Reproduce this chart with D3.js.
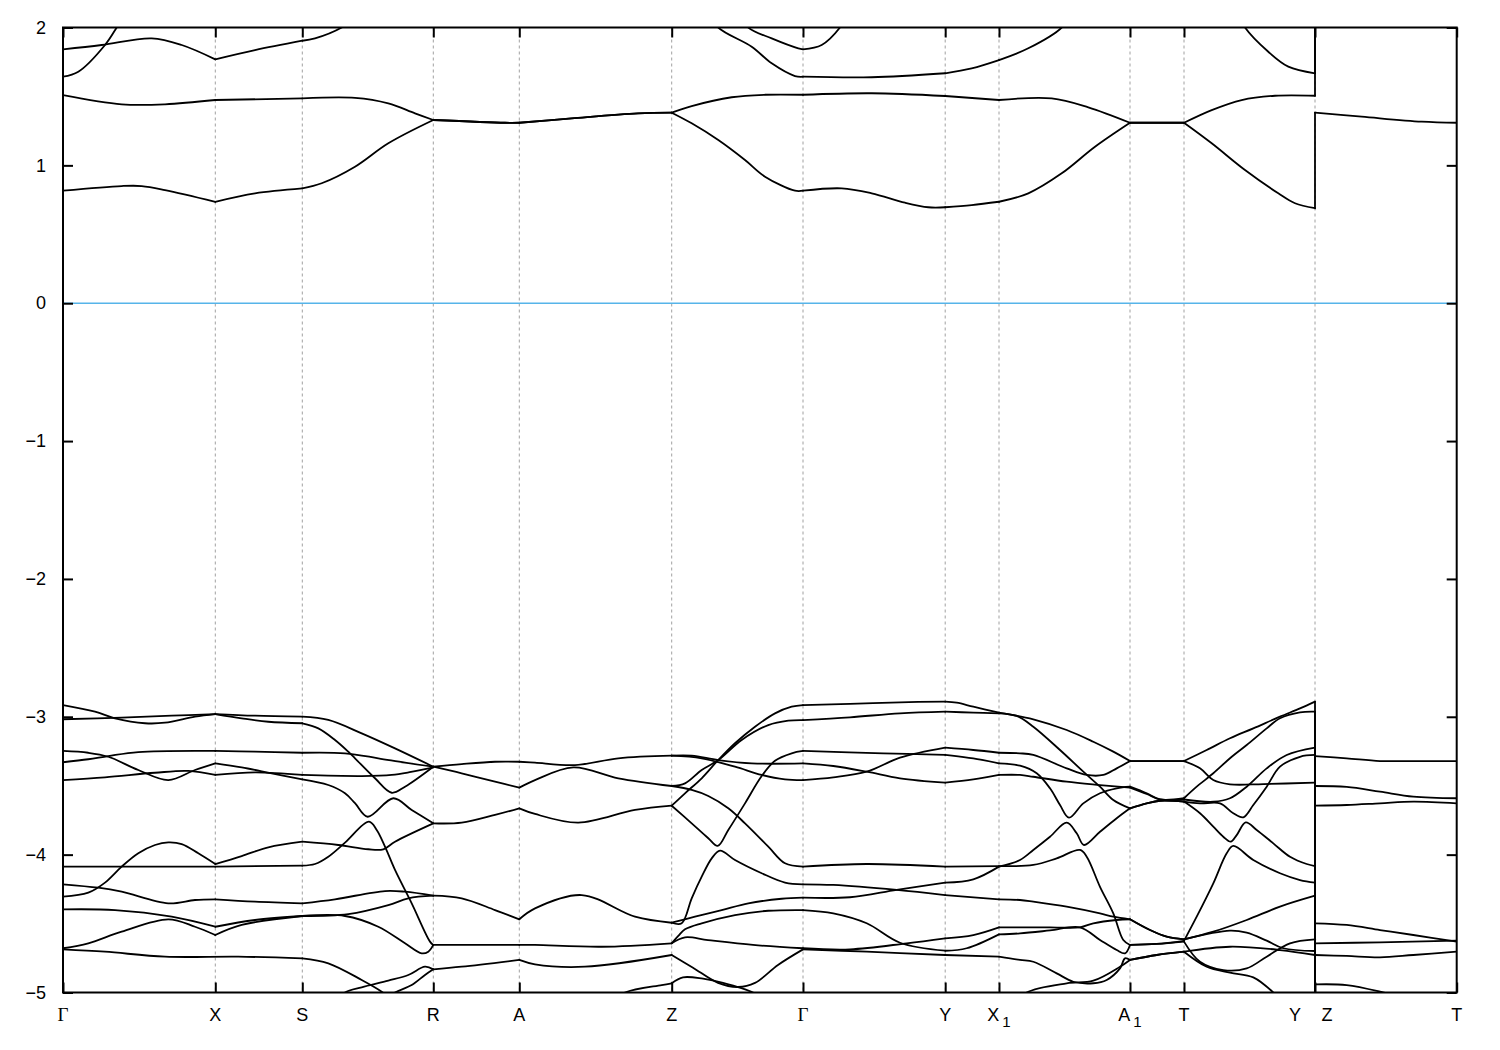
<!DOCTYPE html>
<html><head><meta charset="utf-8">
<script src="https://cdn.jsdelivr.net/npm/d3@7"></script>
<style>body{margin:0;background:#fff}</style>
</head><body><svg id="c" width="1500" height="1050"></svg>
<script>
// k-path positions of the high-symmetry points and their labels
const kTicks = [0,152.3,239.3,370.3,456.3,608.7,740,882.2,936,1067,1121,1252,1393.7];
const kLabels = ["Γ","X","S","R","A","Z","Γ","Y","X_1","A_1","T","Y|Z","T"];
const yTicks = [2,1,0,-1,-2,-3,-4,-5];
const eRange = [-5,2];

// conduction bands [k, E]
const cb1 = [[0,0.816],[58.7,0.850],[78.7,0.850],[102,0.821],[152.3,0.736],[192,0.797],[239.3,0.833],[258.7,0.870],[292,0.990],[325.3,1.160],[370.3,1.329],[442,1.309],[456.3,1.309],[508.7,1.341],[575,1.377],[608.7,1.382],[628.7,1.305],[655.3,1.184],[682,1.039],[702,0.918],[732,0.816],[740,0.816],[778.7,0.833],[808.7,0.797],[842,0.729],[865.3,0.696],[882.2,0.696],[908.7,0.712],[936,0.736],[965.3,0.797],[998.7,0.942],[1032,1.135],[1067,1.309],[1121,1.309],[1148.7,1.160],[1182,0.966],[1215.3,0.797],[1232,0.725],[1252,0.689],[1252,1.382],[1298.7,1.353],[1358.7,1.317],[1393.7,1.309]];
const cb2 = [[0,1.510],[58.7,1.443],[102,1.443],[152.3,1.474],[239.3,1.486],[292,1.490],[325.3,1.450],[352,1.377],[370.3,1.329],[442,1.309],[456.3,1.309],[508.7,1.341],[575,1.377],[608.7,1.382],[628.7,1.430],[668.7,1.494],[702,1.512],[740,1.512],[808.7,1.523],[882.2,1.503],[936,1.474],[988.7,1.486],[1025.3,1.421],[1067,1.309],[1121,1.309],[1148.7,1.401],[1178.7,1.474],[1212,1.505],[1252,1.505],[1252,2.4],[1393.7,2.4]];
const cb3 = [[0,1.842],[38.7,1.873],[88.7,1.921],[118.7,1.873],[152.3,1.769],[192,1.836],[239.3,1.904],[252,1.921],[278.7,2.0],[297,2.1]];
const cb4 = [[0,1.643],[15.3,1.679],[42,1.873],[53.7,2.0],[62,2.1]];
const cb5 = [[647,2.1],[655.3,2.0],[688.7,1.861],[708.7,1.740],[732,1.648],[740,1.643],[808.7,1.639],[882.2,1.668],[908.7,1.704],[936,1.764],[965.3,1.849],[998.7,2.0],[1007,2.1]];
const cb6 = [[677,2.1],[685.3,2.0],[708.7,1.921],[735.3,1.849],[740,1.842],[758.7,1.873],[777,2.0],[785,2.1]];
const cb7 = [[1175,2.1],[1182,2.0],[1205.3,1.824],[1225.3,1.716],[1252,1.668],[1252,2.6]];

// valence bands, Gamma - X - S - R
const v1 = [[0,-2.915],[32,-2.963],[52,-3.011],[82,-3.047],[102,-3.043],[132,-2.999],[152.3,-2.980],[178.7,-3.011],[205.3,-3.036],[239.3,-3.047],[255.3,-3.084],[272,-3.168],[285.3,-3.253],[292,-3.301],[312,-3.446],[328.7,-3.551],[342,-3.507],[370.3,-3.362]];
const v2 = [[0,-3.018],[58.7,-3.006],[108.7,-2.992],[152.3,-2.980],[192,-2.992],[239.3,-2.999],[265.3,-3.023],[298.7,-3.120],[332,-3.229],[370.3,-3.362]];
const v3 = [[0,-3.248],[25.3,-3.261],[45.3,-3.290],[75.3,-3.386],[105.3,-3.459],[132,-3.386],[152.3,-3.338],[178.7,-3.367],[208.7,-3.410],[239.3,-3.454],[265.3,-3.495],[282,-3.555],[292,-3.627],[304.7,-3.725],[330.3,-3.591],[348.7,-3.676],[370.3,-3.773]];
const v4 = [[0,-3.330],[25.3,-3.308],[45.3,-3.285],[75.3,-3.256],[152.3,-3.248],[192,-3.253],[239.3,-3.261],[282,-3.265],[315.3,-3.301],[342,-3.333],[370.3,-3.362]];
const v5 = [[0,-3.459],[42,-3.439],[92,-3.406],[125.3,-3.393],[152.3,-3.422],[192,-3.403],[239.3,-3.422],[298.7,-3.430],[328.7,-3.422],[348,-3.400],[370.3,-3.367]];
const v6 = [[0,-4.305],[25.3,-4.276],[42,-4.203],[58.7,-4.087],[75.3,-3.990],[92,-3.930],[105.3,-3.911],[118.7,-3.923],[135.3,-3.990],[152.3,-4.068],[178.7,-4.010],[205.3,-3.947],[239.3,-3.906],[275.3,-3.930],[305.3,-3.961],[320.3,-3.961],[332,-3.906],[370.3,-3.773]];
const v7 = [[0,-4.087],[152.3,-4.087],[239.3,-4.080],[252,-4.068],[265.3,-4.015],[282,-3.913],[306,-3.761],[313.7,-3.821],[322,-3.942],[332,-4.111],[348.7,-4.353],[367,-4.631],[370.3,-4.655]];
const v8 = [[0,-4.215],[35.3,-4.240],[58.7,-4.269],[105.3,-4.353],[132,-4.329],[152.3,-4.324],[192,-4.341],[239.3,-4.353],[272,-4.324],[322,-4.264],[342,-4.269],[370.3,-4.298]];
const v9 = [[0,-4.397],[52,-4.402],[108.7,-4.450],[152.3,-4.523],[192,-4.474],[239.3,-4.445],[282,-4.445],[315.3,-4.523],[342,-4.643],[358.7,-4.716],[365.3,-4.704],[370.3,-4.655]];
const v10 = [[0,-4.679],[25.3,-4.643],[58.7,-4.559],[105.3,-4.469],[132,-4.523],[152.3,-4.583],[178.7,-4.510],[239.3,-4.445],[285.3,-4.431],[325.3,-4.366],[345.3,-4.317],[370.3,-4.298]];
const v11 = [[0,-4.687],[42,-4.704],[102,-4.740],[175.3,-4.740],[239.3,-4.752],[265.3,-4.788],[298.7,-4.909],[318.7,-4.994],[330,-5.06]];
const v12 = [[270,-5.1],[282,-5.0],[298.7,-4.962],[325.3,-4.914],[345.3,-4.873],[362,-4.813],[370.3,-4.832]];
const v13 = [[322,-5.05],[332,-5.0],[348.7,-4.946],[362,-4.873],[370.3,-4.832]];

// R - A - Z
const raz1 = [[370.3,-3.362],[398.7,-3.343],[432,-3.326],[456.3,-3.326],[472,-3.333],[512,-3.350],[555.3,-3.301],[608.7,-3.282]];
const raz2 = [[370.3,-3.362],[398.7,-3.410],[432,-3.471],[456.3,-3.514],[472,-3.459],[510.3,-3.367],[555.3,-3.446],[608.7,-3.502]];
const raz3 = [[370.3,-3.773],[398.7,-3.768],[432,-3.712],[456.3,-3.664],[472,-3.705],[515.3,-3.768],[572,-3.676],[608.7,-3.645]];
const raz4 = [[370.3,-4.298],[398.7,-4.317],[432,-4.402],[456.3,-4.469],[472,-4.390],[518.7,-4.293],[572,-4.450],[608.7,-4.494]];
const raz5 = [[370.3,-4.655],[456.3,-4.655],[472,-4.655],[538.7,-4.668],[608.7,-4.643]];
const raz6 = [[370.3,-4.832],[398.7,-4.813],[456.3,-4.764],[472,-4.796],[522,-4.813],[608.7,-4.728]];
const raz7 = [[545,-5.08],[562,-5.0],[598.7,-4.946],[608.7,-4.933]];

// Z - Gamma
const zg1 = [[608.7,-3.645],[622,-3.555],[638.7,-3.446],[653.7,-3.326],[672,-3.192],[692,-3.072],[712,-2.975],[728.7,-2.927],[740,-2.915]];
const zg2 = [[608.7,-3.502],[622,-3.483],[638.7,-3.386],[655.3,-3.314],[678.7,-3.168],[705.3,-3.060],[725.3,-3.028],[740,-3.024]];
const zg3 = [[608.7,-3.502],[628.7,-3.531],[645.3,-3.575],[665.3,-3.664],[682,-3.773],[705.3,-3.942],[722,-4.063],[740,-4.087]];
const zg4 = [[608.7,-3.645],[628.7,-3.773],[645.3,-3.881],[654.7,-3.937],[665.3,-3.821],[682,-3.628],[698.7,-3.430],[712,-3.319],[728.7,-3.265],[740,-3.248]];
const zg5 = [[608.7,-3.282],[628.7,-3.282],[655.3,-3.314],[688.7,-3.338],[740,-3.338]];
const zg6 = [[608.7,-3.282],[638.7,-3.301],[672,-3.362],[698.7,-3.422],[722,-3.454],[740,-3.459]];
const zg7 = [[608.7,-4.494],[618.7,-4.498],[628.7,-4.317],[638.7,-4.160],[648.7,-4.027],[657,-3.971],[672,-4.039],[698.7,-4.135],[722,-4.203],[740,-4.215]];
const zg8 = [[608.7,-4.494],[632,-4.450],[658.7,-4.402],[685.3,-4.353],[718.7,-4.320],[740,-4.312]];
const zg9 = [[608.7,-4.643],[615.3,-4.590],[622,-4.542],[638.7,-4.498],[672,-4.438],[705.3,-4.407],[740,-4.402]];
const zg10 = [[608.7,-4.643],[622,-4.600],[645,-4.620],[690,-4.655],[740,-4.679]];
const zg11 = [[608.7,-4.728],[630,-4.820],[655,-4.930],[675,-4.960],[692,-4.930],[715,-4.800],[740,-4.687]];
const zg12 = [[608.7,-4.933],[620,-4.890],[640,-4.900],[660,-4.930],[690,-5.0],[700,-5.05]];

// Gamma - Y - X1 - A1 - T - Y | Z - T
const gA = [[740,-2.915],[787,-2.907],[837,-2.895],[882.2,-2.890],[893.7,-2.898],[910.3,-2.927],[936,-2.970],[970.3,-3.018],[1003.7,-3.096],[1030.3,-3.181],[1050.3,-3.253],[1067,-3.321],[1121,-3.321],[1143.7,-3.241],[1167,-3.156],[1190.3,-3.084],[1217,-2.999],[1237,-2.939],[1252,-2.890],[1252,-3.285],[1283.7,-3.301],[1317,-3.321],[1350.3,-3.321],[1393.7,-3.321]];
const gB = [[740,-3.024],[787,-3.004],[837,-2.975],[882.2,-2.963],[910.3,-2.970],[936,-2.975],[953.7,-2.994],[970.3,-3.072],[997,-3.241],[1020.3,-3.398],[1037,-3.507],[1050.3,-3.603],[1067,-3.664],[1083.7,-3.628],[1097,-3.609],[1121,-3.615],[1137,-3.700],[1150.3,-3.797],[1160.3,-3.870],[1167.7,-3.906],[1173.7,-3.858],[1182.7,-3.766],[1193.7,-3.821],[1210.3,-3.918],[1227,-4.015],[1243.7,-4.068],[1252,-4.083],[1252,-4.728],[1283.7,-4.735],[1317,-4.745],[1350.3,-4.728],[1393.7,-4.704]];
const gC = [[740,-3.459],[770.3,-3.439],[803.7,-3.398],[837,-3.297],[882.2,-3.224],[910.3,-3.241],[936,-3.261],[957,-3.265],[970.3,-3.277],[1003.7,-3.374],[1023.7,-3.422],[1040.3,-3.422],[1053.7,-3.374],[1067,-3.321],[1121,-3.321],[1137,-3.374],[1150.3,-3.459],[1167,-3.490],[1200.3,-3.488],[1252,-3.478],[1252,-4.643],[1317,-4.636],[1393.7,-4.624]];
const gD = [[740,-3.248],[820.3,-3.265],[882.2,-3.277],[920.3,-3.314],[936,-3.338],[957,-3.355],[973.7,-3.410],[987,-3.519],[997,-3.640],[1006,-3.732],[1020.3,-3.628],[1037,-3.555],[1053.7,-3.519],[1067,-3.507],[1083.7,-3.555],[1097,-3.599],[1121,-3.591],[1133.7,-3.507],[1150.3,-3.410],[1167,-3.301],[1183.7,-3.205],[1203.7,-3.084],[1217,-3.011],[1237,-2.968],[1252,-2.963],[1252,-3.502],[1283.7,-3.509],[1317,-3.543],[1350.3,-3.579],[1393.7,-3.591]];
const gE = [[740,-3.338],[770.3,-3.357],[803.7,-3.398],[837,-3.446],[882.2,-3.478],[910.3,-3.454],[936,-3.422],[957,-3.422],[970.3,-3.435],[1003.7,-3.471],[1037,-3.495],[1067,-3.514],[1083.7,-3.560],[1097,-3.600],[1121,-3.600],[1150.3,-3.616],[1167,-3.591],[1183.7,-3.507],[1203.7,-3.374],[1223.7,-3.277],[1252,-3.224],[1252,-3.645],[1283.7,-3.640],[1317,-3.628],[1350.3,-3.616],[1393.7,-3.628]];
const gF = [[740,-4.312],[787,-4.309],[833.7,-4.256],[882.2,-4.203],[910.3,-4.179],[936,-4.087],[957,-4.039],[970.3,-3.966],[987,-3.870],[1003.7,-3.768],[1013.7,-3.845],[1021,-3.930],[1037,-3.834],[1053.7,-3.736],[1067,-3.664],[1083.7,-3.628],[1097,-3.609],[1121,-3.615],[1137,-3.628],[1157,-3.628],[1170.3,-3.700],[1180.3,-3.729],[1190.3,-3.640],[1203.7,-3.507],[1217,-3.362],[1237,-3.290],[1252,-3.277],[1252,-4.498],[1283.7,-4.510],[1317,-4.547],[1350.3,-4.583],[1393.7,-4.631]];
const gG = [[740,-4.087],[803.7,-4.068],[882.2,-4.087],[936,-4.083],[970.3,-4.075],[993.7,-4.027],[1017,-3.966],[1023.7,-4.015],[1037,-4.233],[1050.3,-4.426],[1060.3,-4.619],[1067,-4.655],[1093.7,-4.648],[1121,-4.625],[1133.7,-4.450],[1150.3,-4.208],[1163.7,-3.990],[1170.3,-3.937],[1190.3,-4.039],[1217,-4.135],[1237,-4.184],[1252,-4.203],[1252,-4.941],[1283.7,-4.946],[1317,-4.994],[1330,-5.02],[1345,-5.08]];
const gH = [[740,-4.215],[770.3,-4.220],[833.7,-4.256],[882.2,-4.293],[936,-4.324],[957,-4.329],[970.3,-4.341],[1003.7,-4.377],[1037,-4.426],[1050.3,-4.450],[1067,-4.469],[1087,-4.547],[1103.7,-4.595],[1121,-4.614],[1150.3,-4.559],[1183.7,-4.474],[1217,-4.377],[1252,-4.298],[1252,-5.5]];
const gI = [[740,-4.679],[787,-4.687],[843.7,-4.643],[882.2,-4.607],[910.3,-4.583],[936,-4.527],[957,-4.527],[987,-4.527],[1017,-4.527],[1030.3,-4.498],[1053.7,-4.474],[1067,-4.469],[1087,-4.547],[1103.7,-4.595],[1121,-4.614],[1167,-4.551],[1183.7,-4.566],[1203.7,-4.624],[1220.3,-4.679],[1252,-4.699],[1252,-5.5]];
const gJ = [[740,-4.402],[770.3,-4.426],[803.7,-4.498],[837,-4.639],[882.2,-4.697],[903.7,-4.679],[936,-4.578],[957,-4.571],[987,-4.550],[1017,-4.527],[1037,-4.619],[1053.7,-4.692],[1062,-4.716],[1067,-4.655],[1093.7,-4.648],[1121,-4.631],[1137,-4.777],[1160.3,-4.837],[1183.7,-4.825],[1203.7,-4.740],[1227,-4.643],[1252,-4.614],[1252,-5.5]];
const gK = [[740,-4.687],[803.7,-4.704],[882.2,-4.728],[936,-4.740],[957,-4.764],[970.3,-4.777],[993.7,-4.861],[1010.3,-4.922],[1030.3,-4.933],[1043.7,-4.909],[1057,-4.825],[1062,-4.752],[1067,-4.764],[1093.7,-4.728],[1121,-4.704],[1167,-4.668],[1217,-4.692],[1252,-4.728],[1252,-5.5]];
const gL = [[950,-5.1],[963.7,-5.0],[1003.7,-4.933],[1030.3,-4.914],[1057,-4.813],[1067,-4.764],[1093.7,-4.728],[1121,-4.704],[1143.7,-4.813],[1167,-4.856],[1190.3,-4.890],[1210.3,-5.0],[1220,-5.08]];

const bands = [cb1,cb2,cb3,cb4,cb5,cb6,cb7,v1,v2,v3,v4,v5,v6,v7,v8,v9,v10,v11,v12,v13,
  raz1,raz2,raz3,raz4,raz5,raz6,raz7,zg1,zg2,zg3,zg4,zg5,zg6,zg7,zg8,zg9,zg10,zg11,zg12,
  gA,gB,gC,gD,gE,gF,gG,gH,gI,gJ,gK,gL];

const W = 1500, H = 1050;
const m = {l:63, r:1456.7, t:27.5, b:992.5};
const svg = d3.select("#c");
const x = d3.scaleLinear().domain([kTicks[0], kTicks[kTicks.length-1]]).range([m.l, m.r]);
const y = d3.scaleLinear().domain(eRange).range([m.b, m.t]);

svg.append("rect").attr("width",W).attr("height",H).attr("fill","#fff");

// dashed verticals at high-symmetry points
svg.append("g").selectAll("line").data(kTicks.slice(1,-1)).join("line")
  .attr("x1",d=>x(d)).attr("x2",d=>x(d)).attr("y1",m.t).attr("y2",m.b)
  .attr("stroke","#a0a0a0").attr("stroke-width",1).attr("stroke-dasharray","3,3");

// Fermi level
svg.append("line").attr("x1",m.l).attr("x2",m.r).attr("y1",y(0)).attr("y2",y(0))
  .attr("stroke","#56b4e9").attr("stroke-width",1.6);

svg.append("clipPath").attr("id","clip").append("rect")
  .attr("x",m.l).attr("y",m.t).attr("width",m.r-m.l).attr("height",m.b-m.t);

// split each band into per-segment pieces (kinks allowed at high-symmetry points)
// and straight connectors where it jumps (same k twice)
const tickSet = new Set(kTicks);
const pieces = [], jumps = [];
bands.forEach(b=>{
  let cur = [b[0]];
  for (let i=1;i<b.length;i++){
    const p = b[i];
    if (p[0] === b[i-1][0]) { pieces.push(cur); jumps.push([b[i-1],p]); cur=[p]; continue; }
    cur.push(p);
    if (tickSet.has(p[0]) && i < b.length-1 && b[i+1][0] !== p[0]) { pieces.push(cur); cur=[p]; }
  }
  pieces.push(cur);
});
const smooth = d3.line().x(d=>x(d[0])).y(d=>y(d[1])).curve(d3.curveCatmullRom.alpha(0.5));
const straight = d3.line().x(d=>x(d[0])).y(d=>y(d[1]));
const gBands = svg.append("g").attr("clip-path","url(#clip)")
  .attr("fill","none").attr("stroke","#000").attr("stroke-width",1.8)
  .attr("stroke-linejoin","round").attr("stroke-linecap","round");
gBands.selectAll("path.p").data(pieces.filter(p=>p.length>1)).join("path").attr("class","p").attr("d",smooth);
gBands.selectAll("path.j").data(jumps).join("path").attr("class","j").attr("d",straight);

// axes (inward ticks)
const fontMain = "'Liberation Sans', Arial, sans-serif";
const gl = svg.append("g").attr("transform",`translate(${m.l},0)`)
  .call(d3.axisLeft(y).tickValues(yTicks).tickSize(-10).tickSizeOuter(0).tickPadding(17).tickFormat(d3.format("d")));
const gr = svg.append("g").attr("transform",`translate(${m.r},0)`)
  .call(d3.axisRight(y).tickValues(yTicks).tickSize(-10).tickSizeOuter(0).tickFormat(""));
const gb = svg.append("g").attr("transform",`translate(0,${m.b})`)
  .call(d3.axisBottom(x).tickValues(kTicks).tickSize(-10).tickSizeOuter(0).tickFormat(""));
const gt = svg.append("g").attr("transform",`translate(0,${m.t})`)
  .call(d3.axisTop(x).tickValues(kTicks).tickSize(-10).tickSizeOuter(0).tickFormat(""));
[gl,gr,gb,gt].forEach(g=>{
  g.select(".domain").remove();
  g.selectAll(".tick line").attr("stroke","#000").attr("stroke-width",2);
});
gl.selectAll(".tick text").attr("font-family",fontMain).attr("font-size",18).attr("fill","#000");

// frame
svg.append("rect").attr("x",m.l).attr("y",m.t).attr("width",m.r-m.l).attr("height",m.b-m.t)
  .attr("fill","none").attr("stroke","#000").attr("stroke-width",2);

// k-point labels
const lab = svg.append("g").attr("font-size",18).attr("fill","#000");
kTicks.forEach((k,i)=>{
  const s = kLabels[i], px = x(k), base = 1021;
  if (s === "Γ") {
    lab.append("text").attr("x",px).attr("y",base).attr("text-anchor","middle")
      .attr("font-family","'Liberation Serif', serif").attr("font-size",19).text(s);
  } else if (s.includes("|")) {
    const [a,b] = s.split("|");
    lab.append("text").attr("x",px-20).attr("y",base).attr("text-anchor","middle").attr("font-family",fontMain).text(a);
    lab.append("text").attr("x",px+12).attr("y",base).attr("text-anchor","middle").attr("font-family",fontMain).text(b);
  } else if (s.includes("_")) {
    const [a,b] = s.split("_");
    const t = lab.append("text").attr("x",px).attr("y",base).attr("text-anchor","middle").attr("font-family",fontMain);
    t.append("tspan").text(a);
    t.append("tspan").attr("dx",3).attr("dy",6).attr("font-size",15).text(b);
  } else {
    lab.append("text").attr("x",px).attr("y",base).attr("text-anchor","middle").attr("font-family",fontMain).text(s);
  }
});
</script></body></html>
